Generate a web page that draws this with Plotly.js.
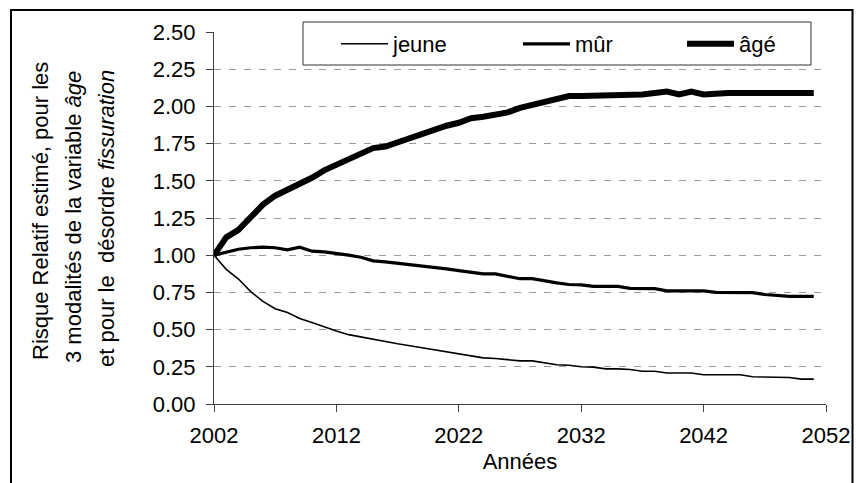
<!DOCTYPE html>
<html>
<head>
<meta charset="utf-8">
<script src="https://cdn.plot.ly/plotly-3.0.1.min.js"></script>
<style>html,body{margin:0;padding:0;background:#fff;}#chart{width:856px;height:483px;}</style>
</head>
<body>
<div id="chart"></div>
<script>
const years = [2002,2003,2004,2005,2006,2007,2008,2009,2010,2011,2012,2013,2014,2015,2016,2017,2018,2019,2020,2021,2022,2023,2024,2025,2026,2027,2028,2029,2030,2031,2032,2033,2034,2035,2036,2037,2038,2039,2040,2041,2042,2043,2044,2045,2046,2047,2048,2049,2050,2051];

const jeune = [1.00,0.905,0.84,0.755,0.69,0.64,0.615,0.575,0.547,0.518,0.49,0.466,0.45,0.432,0.42,0.405,0.392,0.378,0.365,0.35,0.338,0.325,0.31,0.306,0.30,0.29,0.29,0.278,0.264,0.26,0.25,0.248,0.236,0.236,0.232,0.22,0.22,0.208,0.208,0.208,0.197,0.197,0.197,0.197,0.183,0.183,0.183,0.178,0.167,0.167];

const mur = [1.00,1.018,1.04,1.05,1.054,1.05,1.036,1.054,1.027,1.022,1.013,1.00,0.986,0.962,0.955,0.946,0.94,0.93,0.92,0.908,0.896,0.883,0.874,0.874,0.86,0.842,0.842,0.826,0.814,0.803,0.80,0.79,0.79,0.79,0.777,0.777,0.775,0.76,0.76,0.76,0.76,0.75,0.75,0.75,0.748,0.736,0.73,0.723,0.723,0.723];

const age = [1.00,1.12,1.17,1.25,1.34,1.40,1.44,1.47,1.52,1.57,1.61,1.65,1.69,1.72,1.73,1.76,1.79,1.82,1.84,1.87,1.89,1.92,1.93,1.94,1.96,1.99,2.01,2.03,2.04,2.07,2.07,2.07,2.075,2.08,2.08,2.08,2.09,2.10,2.08,2.10,2.08,2.09,2.09,2.09,2.09,2.09,2.09,2.09,2.09,2.09];

const seriesNames = ['jeune', 'mûr', 'âgé'];
const xTickVals = [2002, 2012, 2022, 2032, 2042, 2052];
const yTitleLines = [
  'Risque Relatif estimé, pour les',
  '3 modalités de la variable <i>âge</i>',
  'et pour le\u00a0 désordre <i>fissuration</i>'
];
const xTitle = 'Années';

const FONT = 'Arial, "Liberation Sans", sans-serif';

const traces = [
  {x: years, y: jeune, name: seriesNames[0], mode: 'lines', line: {color: '#000', width: 1.6}, legend: 'legend'},
  {x: years, y: mur, name: seriesNames[1], mode: 'lines', line: {color: '#000', width: 3.2}, legend: 'legend2'},
  {x: years, y: age, name: seriesNames[2], mode: 'lines', line: {color: '#000', width: 6}, legend: 'legend3'}
];

// plot area: x 214..826, y 32..404
const L = 214, R = 826, T = 32, B = 404;
const px = v => (v - L) / (R - L);
const py = v => (B - v) / (B - T);

const yTitleX = [40, 73, 106];
const yTitleY = [211, 217, 219];
const annotations = yTitleLines.map((t, i) => ({
  text: t, xref: 'paper', yref: 'paper', x: px(yTitleX[i]), y: py(yTitleY[i]),
  xanchor: 'center', yanchor: 'middle', textangle: -90, showarrow: false,
  font: {family: FONT, size: 22, color: '#000'}
}));

function legendAt(xpix) {
  return {
    orientation: 'h', x: px(xpix), y: py(44), xanchor: 'left', yanchor: 'middle',
    bgcolor: 'rgba(0,0,0,0)', borderwidth: 0, font: {family: FONT, size: 22, color: '#000'},
    itemwidth: 47
  };
}

const layout = {
  width: 856, height: 483,
  margin: {l: L, r: 856 - R, t: T, b: 483 - B, pad: 0},
  paper_bgcolor: '#fff', plot_bgcolor: '#fff',
  font: {family: FONT, size: 22, color: '#000'},
  showlegend: true,
  legend: legendAt(336),
  legend2: legendAt(518),
  legend3: legendAt(682),
  xaxis: {
    range: [2002, 2052], tickmode: 'array', tickvals: xTickVals, ticktext: xTickVals.map(String),
    ticks: 'outside', ticklen: 7, tickcolor: '#404040', tickwidth: 1,
    showline: true, linecolor: '#404040', linewidth: 1, showgrid: false, zeroline: false,
    tickfont: {family: FONT, size: 22, color: '#000'}, ticklabelstandoff: 5,
    title: {text: xTitle, font: {family: FONT, size: 22, color: '#000'}, standoff: 6}
  },
  yaxis: {
    range: [0, 2.5], tickmode: 'linear', tick0: 0, dtick: 0.25, tickformat: '.2f',
    ticks: 'outside', ticklen: 7, tickcolor: '#404040', tickwidth: 1,
    showline: true, linecolor: '#404040', linewidth: 1,
    showgrid: true, gridcolor: '#9a9a9a', gridwidth: 1, griddash: '7px,8px', zeroline: false,
    tickfont: {family: FONT, size: 22, color: '#000'}, ticklabelstandoff: 6
  },
  shapes: [
    {type: 'rect', xref: 'paper', yref: 'paper', x0: px(303), x1: px(811), y0: py(65), y1: py(22),
     line: {color: '#333', width: 1}, fillcolor: '#fff', layer: 'above'},
    {type: 'rect', xref: 'paper', yref: 'paper', x0: px(11), x1: px(852.5), y0: py(495), y1: py(10),
     line: {color: '#000', width: 2}, fillcolor: 'rgba(0,0,0,0)', layer: 'below'}
  ],
  annotations: annotations
};

Plotly.newPlot('chart', traces, layout, {displayModeBar: false, staticPlot: true});
</script>
</body>
</html>
